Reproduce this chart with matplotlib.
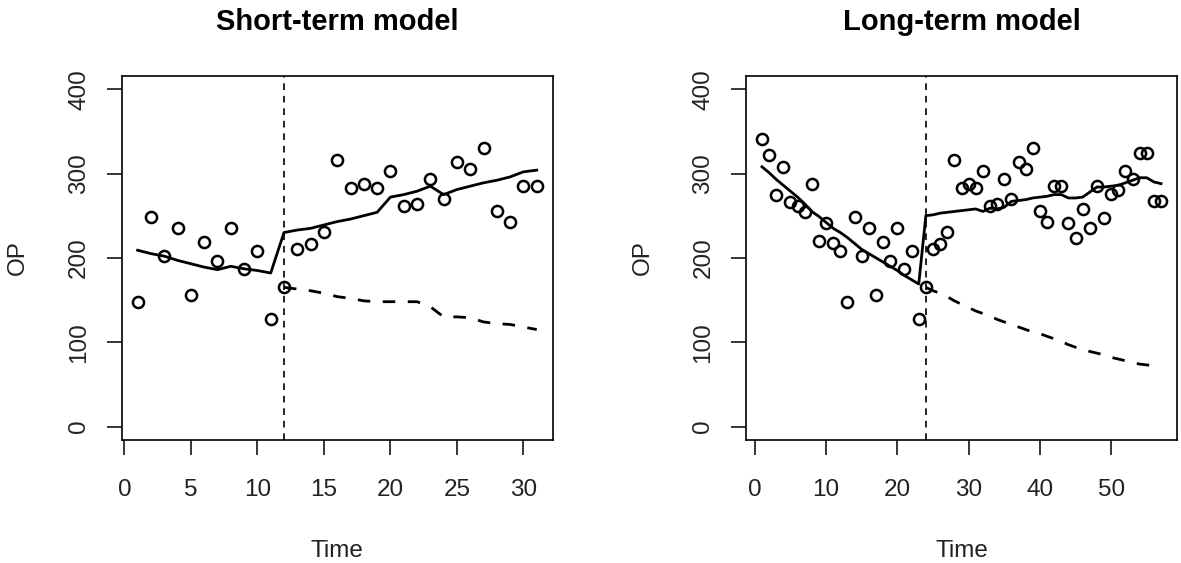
import matplotlib.pyplot as plt

plt.rcParams['font.family'] = ['Liberation Sans', 'DejaVu Sans']

# ---------------- data ---------------- #
# short-term model: time 1..31, intervention at 12
short_time = list(range(1, 32))
short_op = [148, 248, 202, 235, 156, 219, 196, 235, 187, 208, 127, 165,
            210, 216, 231, 316, 283, 287, 283, 303, 262, 264, 293, 270,
            314, 305, 330, 256, 243, 285, 285]
short_fit = [209, 205, 202, 197, 193, 189, 186, 190, 187, 185, 182, 230,
             233, 235, 239, 243, 246, 250, 254, 272, 275, 279, 285, 275,
             281, 285, 289, 292, 296, 302, 304]
short_cf_time = list(range(12, 32))
short_cf = [165, 163, 161, 158, 154, 152, 149, 148, 148, 148, 148, 142,
            130, 130, 129, 124, 122, 121, 118, 115]
short_break = 12

# long-term model: time 1..57, intervention at 24
long_time = list(range(1, 58))
long_op = [341, 322, 275, 308, 266, 262, 254, 287, 220, 241, 218, 208,
           148, 248, 202, 235, 156, 219, 196, 235, 187, 208, 127, 165,
           210, 216, 231, 316, 283, 287, 283, 303, 262, 264, 293, 270,
           314, 305, 330, 256, 243, 285, 285, 241, 223, 258, 235, 285,
           247, 276, 280, 303, 294, 324, 324, 268, 268]
long_fit = [308, 301, 293, 286, 279, 272, 264, 255, 249, 242, 235, 230,
            224, 217, 210, 205, 200, 195, 190, 185, 179, 174, 169, 250,
            251, 253, 254, 255, 256, 257, 258, 255, 259, 258, 260, 267,
            268, 269, 271, 272, 273, 275, 275, 271, 271, 272, 278, 284,
            284, 285, 286, 289, 292, 295, 295, 290, 288]
long_cf_time = list(range(24, 58))
long_cf = [165, 161, 158, 154, 149, 145, 141, 137, 134, 131, 127, 124,
           121, 118, 115, 112, 110, 107, 104, 101, 97, 94, 92, 89,
           87, 85, 82, 80, 78, 76, 74, 73, 72, 71]
long_break = 24

panels = [
    ('Short-term model', short_time, short_op, short_fit, short_cf_time, short_cf,
     short_break, [0, 5, 10, 15, 20, 25, 30]),
    ('Long-term model', long_time, long_op, long_fit, long_cf_time, long_cf,
     long_break, [0, 10, 20, 30, 40, 50]),
]

# ---------------------------- plot ---------------------------- #
W, H = 1181, 563
fig = plt.figure(figsize=(W / 100, H / 100), dpi=100)

lefts = [121.7, 746.0]
for left, (title, t, op, fit, cf_t, cf, brk, xticks) in zip(lefts, panels):
    ax = fig.add_axes([left / W, 1 - 440 / H, 431 / W, 364.3 / H])

    ax.plot(t, op, 'o', mfc='none', mec='black', ms=8, mew=1.8)
    ax.plot(t, fit, '-', color='black', lw=2)
    ax.plot(cf_t, cf, color='black', lw=2, dashes=(4.5, 4.5))
    ax.axvline(brk, color='black', lw=1.2, dashes=(4, 3.5))

    rng = t[-1] - t[0]
    ax.set_xlim(t[0] - 0.04 * rng, t[-1] + 0.04 * rng)
    ax.set_ylim(-16, 416)
    ax.set_xticks(xticks)
    ax.set_yticks([0, 100, 200, 300, 400])
    ax.tick_params(direction='out', length=10.8, width=1.1, labelsize=17.5,
                   color='black', labelcolor='#222222')
    ax.tick_params(axis='x', pad=17)
    ax.tick_params(axis='y', pad=12)
    plt.setp(ax.get_yticklabels(), rotation=90, va='center')
    for s in ax.spines.values():
        s.set_linewidth(1.2)

    ax.set_xlabel('Time', fontsize=17.5, labelpad=28.5, color='#222222')
    ax.set_ylabel('OP', fontsize=17.5, labelpad=28, color='#222222')
    ax.set_title(title, fontsize=21, fontweight='bold', pad=33)

fig.savefig('out.png', dpi=100)
